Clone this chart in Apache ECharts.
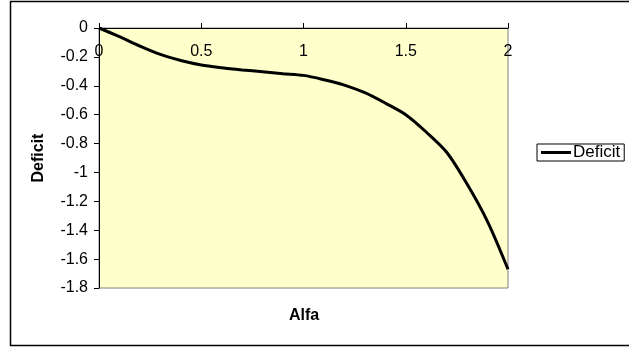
<!DOCTYPE html>
<html>
<head>
<meta charset="utf-8">
<script src="https://cdn.jsdelivr.net/npm/echarts@6/dist/echarts.min.js"></script>
<style>
html,body{margin:0;padding:0;background:#fff;}
#c{width:629px;height:349px;}
</style>
</head>
<body>
<div id="c"></div>
<script>
var alfa = [0, 0.1, 0.2, 0.3, 0.4, 0.5, 0.6, 0.7, 0.8, 0.9, 1.0, 1.1, 1.2, 1.3, 1.4, 1.5, 1.6, 1.7, 1.8, 1.9, 2.0];
var deficit = [0, -0.06, -0.125, -0.183, -0.225, -0.256, -0.275, -0.29, -0.303, -0.316, -0.328, -0.358, -0.395, -0.448, -0.52, -0.6, -0.72, -0.86, -1.08, -1.34, -1.67];
var seriesName = 'Deficit';
var xTitle = 'Alfa';
var yTitle = 'Deficit';

var FONT = 'Liberation Sans, Arial, sans-serif';
var FS = 16;
var chart = echarts.init(document.getElementById('c'), null, {renderer: 'canvas'});
chart.setOption({
  animation: false,
  backgroundColor: '#ffffff',
  grid: {
    left: 99, top: 28, width: 409, height: 260,
    show: true, backgroundColor: '#FFFFCC', borderColor: '#808080', borderWidth: 1
  },
  legend: {
    left: 537, top: 144,
    padding: [0, 4, 0, 4],
    borderColor: '#000', borderWidth: 1,
    icon: 'rect', itemWidth: 30, itemHeight: 3, itemGap: 2,
    textStyle: {fontFamily: FONT, fontSize: 17, color: '#000', padding: [0, 0, 0, -3]},
    data: [seriesName]
  },
  xAxis: {
    type: 'value', min: 0, max: 2, interval: 0.5, position: 'top',
    axisLine: {show: true, lineStyle: {color: '#000', width: 1}},
    axisTick: {show: true, inside: false, length: 5, lineStyle: {color: '#000'}},
    axisLabel: {inside: true, margin: 16, fontFamily: FONT, fontSize: FS, color: '#000',
      formatter: function (v) { return String(+v.toFixed(1)); }},
    splitLine: {show: false}
  },
  yAxis: {
    type: 'value', min: -1.8, max: 0, interval: 0.2,
    name: yTitle, nameLocation: 'middle', nameGap: 52,
    nameTextStyle: {fontFamily: FONT, fontSize: FS, fontWeight: 'bold', color: '#000'},
    axisLine: {show: true, lineStyle: {color: '#000', width: 1}},
    axisTick: {show: true, length: 5, lineStyle: {color: '#000'}},
    axisLabel: {margin: 11, fontFamily: FONT, fontSize: FS, color: '#000',
      formatter: function (v) { return String(+v.toFixed(1)); }},
    splitLine: {show: false}
  },
  graphic: [
    {type: 'rect', shape: {x: 10.5, y: 1.5, width: 700, height: 344}, style: {fill: 'none', stroke: '#000', lineWidth: 1.5}, z: 100},
    {type: 'text', x: 304, y: 316, style: {text: xTitle, fontFamily: FONT, fontSize: FS, fontWeight: 'bold', fill: '#000', align: 'center', verticalAlign: 'middle'}}
  ],
  series: [{
    name: seriesName, type: 'line',
    data: alfa.map(function (a, i) { return [a, deficit[i]]; }),
    smooth: 0.3, showSymbol: false, symbol: 'none',
    lineStyle: {color: '#000', width: 3}, itemStyle: {color: '#000'}
  }]
});
</script>
</body>
</html>
